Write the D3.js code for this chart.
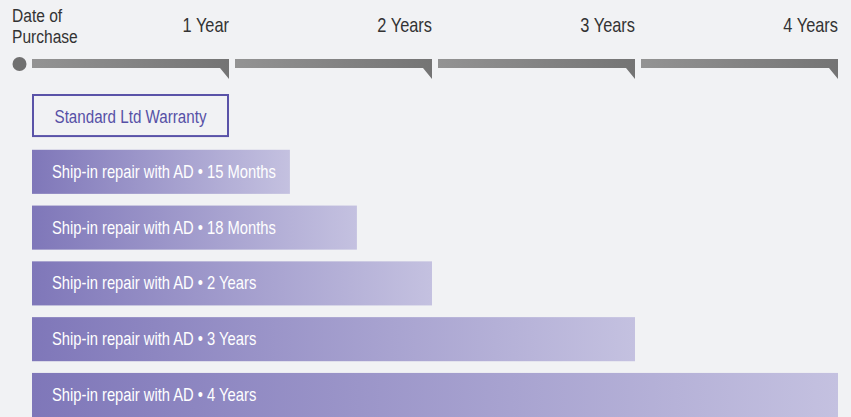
<!DOCTYPE html>
<html>
<head>
<meta charset="utf-8">
<script src="https://cdn.jsdelivr.net/npm/d3@7"></script>
<style>
  html, body { margin: 0; padding: 0; background: #f1f2f4; }
  svg { display: block; }
  text { font-family: "Liberation Sans", Arial, sans-serif; }
</style>
</head>
<body>
<svg id="chart" width="851" height="417"></svg>
<script>
// ---- data ----
const startLabel = ["Date of", "Purchase"];
const tickYears = [1, 2, 3, 4];
const tickLabels = ["1 Year", "2 Years", "3 Years", "4 Years"];
const standardLabel = "Standard Ltd Warranty";
const standardEnd = 1; // years
const planLabels = [
  "Ship-in repair with AD \u2022 15 Months",
  "Ship-in repair with AD \u2022 18 Months",
  "Ship-in repair with AD \u2022 2 Years",
  "Ship-in repair with AD \u2022 3 Years",
  "Ship-in repair with AD \u2022 4 Years"
];
const planEnds = [1.30, 1.63, 2, 3, 4]; // bar ends as drawn, in years

// ---- layout ----
const W = 851, H = 417;
const NARROW = 0.82; // condensed look
const svg = d3.select("#chart");
const x = d3.scaleLinear().domain([0, 4]).range([26, 838]);
const rows = ["standard", ...planLabels];
const y = d3.scaleBand().domain(rows).range([94, 417]).paddingInner(0.21).paddingOuter(0);
const barStart = x(0) + 6;
const narrow = (tx, ty) => `translate(${tx},${ty}) scale(${NARROW},1)`;

svg.append("rect").attr("width", W).attr("height", H).attr("fill", "#f1f2f4");

const defs = svg.append("defs");
const pg = defs.append("linearGradient").attr("id", "purpleGrad").attr("x1", "0").attr("x2", "1").attr("y1", "0").attr("y2", "0");
pg.append("stop").attr("offset", "0").attr("stop-color", "#7f77b9");
pg.append("stop").attr("offset", "1").attr("stop-color", "#c4c1e0");
const gg = defs.append("linearGradient").attr("id", "greyGrad").attr("x1", "0").attr("x2", "1").attr("y1", "0").attr("y2", "0");
gg.append("stop").attr("offset", "0").attr("stop-color", "#939393");
gg.append("stop").attr("offset", "1").attr("stop-color", "#747474");

// header: start label
svg.selectAll("text.start").data(startLabel).join("text")
  .attr("class", "start")
  .attr("transform", (d, i) => narrow(12, 21.5 + i * 21.5))
  .attr("font-size", 19).attr("fill", "#333")
  .text(d => d);

// year labels
svg.selectAll("text.tick").data(tickYears).join("text")
  .attr("class", "tick")
  .attr("transform", d => narrow(x(d), 32))
  .attr("text-anchor", "end").attr("font-size", 20).attr("fill", "#333")
  .text((d, i) => tickLabels[i]);

// timeline dot
svg.append("circle").attr("cx", 19.5).attr("cy", 64).attr("r", 7).attr("fill", "#707070");

// timeline segments with tails
const segY0 = 59, segY1 = 68, tailY = 79, tailW = 9;
svg.selectAll("path.seg").data(tickYears).join("path")
  .attr("class", "seg")
  .attr("fill", "url(#greyGrad)")
  .attr("d", d => {
    const x0 = x(d - 1) + 6, x1 = x(d);
    return `M${x0},${segY0}H${x1}V${tailY}L${x1 - tailW},${segY1}H${x0}Z`;
  });

// standard warranty box
svg.append("rect")
  .attr("x", barStart + 1).attr("y", y("standard") + 1)
  .attr("width", x(standardEnd) - barStart - 2)
  .attr("height", y.bandwidth() - 3)
  .attr("fill", "none").attr("stroke", "#5a53a8").attr("stroke-width", 2);
svg.append("text")
  .attr("transform", narrow((barStart + x(standardEnd)) / 2, y("standard") + y.bandwidth() / 2 + 6.5))
  .attr("text-anchor", "middle").attr("font-size", 18.5).attr("fill", "#5650a6")
  .text(standardLabel);

// plan bars
const g = svg.selectAll("g.plan").data(planLabels).join("g").attr("class", "plan");
g.append("rect")
  .attr("x", barStart).attr("y", d => y(d))
  .attr("width", (d, i) => x(planEnds[i]) - barStart)
  .attr("height", y.bandwidth())
  .attr("fill", "url(#purpleGrad)");
g.append("text")
  .attr("transform", d => narrow(barStart + 20, y(d) + y.bandwidth() / 2 + 6))
  .attr("font-size", 18).attr("fill", "#ffffff")
  .text(d => d);
</script>
</body>
</html>
